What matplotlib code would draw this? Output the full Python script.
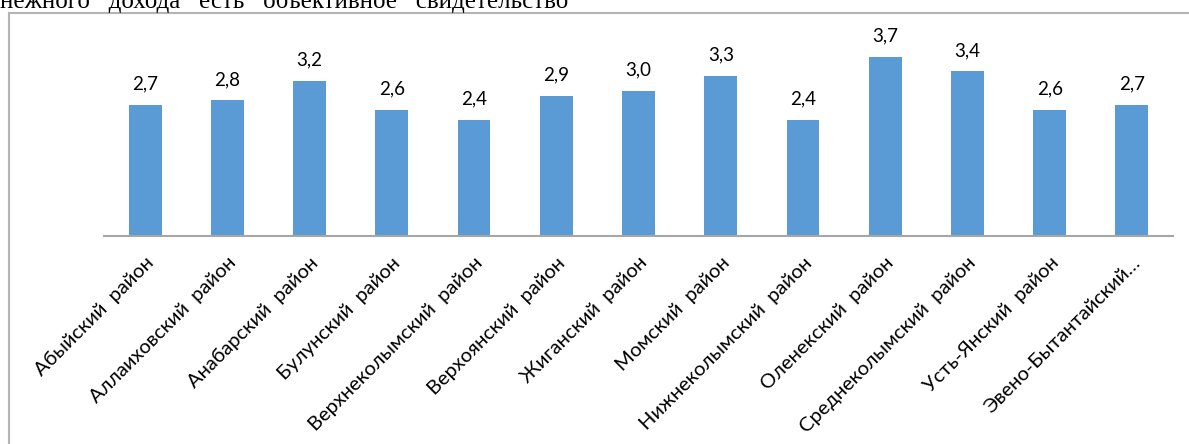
import matplotlib.pyplot as plt
from matplotlib.patches import Rectangle

districts = [
    'Абыйский  район', 'Аллаиховский  район', 'Анабарский  район',
    'Булунский  район', 'Верхнеколымский  район', 'Верхоянский  район',
    'Жиганский  район', 'Момский  район', 'Нижнеколымский  район',
    'Оленекский  район', 'Среднеколымский  район', 'Усть-Янский  район',
    'Эвено-Бытантайский…',
]
values = [2.7, 2.8, 3.2, 2.6, 2.4, 2.9, 3.0, 3.3, 2.4, 3.7, 3.4, 2.6, 2.7]
caption = 'нежного   дохода   есть   объективное   свидетельство'


def main():
    plt.rcParams['font.family'] = ['Lato', 'DejaVu Sans']
    fig = plt.figure(figsize=(11.89, 4.44), dpi=100)

    # frame of the embedded chart (right and bottom edges are cut off)
    fig.patches.append(Rectangle((9 / 1189, -0.05), 1.1, 0.05 + 431 / 444,
                                 transform=fig.transFigure, fill=False,
                                 edgecolor='#b4b4b4', linewidth=1.5))
    fig.text(0.0, 1 - 8 / 444, caption, family='Liberation Serif',
             fontsize=18, va='baseline', ha='left', color='black')

    ax = fig.add_axes([104 / 1189, 1 - 236 / 444, 1069 / 1189, 193.6 / 444])
    x = range(len(values))
    bars = ax.bar(x, values, width=0.4, color='#5b9bd5')
    for bar, v in zip(bars, values):
        ax.annotate(f'{v:.1f}'.replace('.', ','),
                    (bar.get_x() + bar.get_width() / 2, v),
                    xytext=(0, 9), textcoords='offset points',
                    ha='center', va='bottom', fontsize=13.5)

    ax.set_xlim(-0.5, len(values) - 0.5)
    ax.set_ylim(0, 4)
    ax.set_yticks([])
    ax.set_xticks(list(x))
    ax.set_xticklabels(districts, rotation=45, ha='right',
                       rotation_mode='anchor', fontsize=14.5)
    ax.tick_params(axis='x', length=0, pad=13)
    for side in ['top', 'right', 'left']:
        ax.spines[side].set_visible(False)
    ax.spines['bottom'].set_color('#a6a6a6')
    ax.spines['bottom'].set_linewidth(1.5)

    fig.savefig('out.png', dpi=100)


if __name__ == '__main__':
    main()
